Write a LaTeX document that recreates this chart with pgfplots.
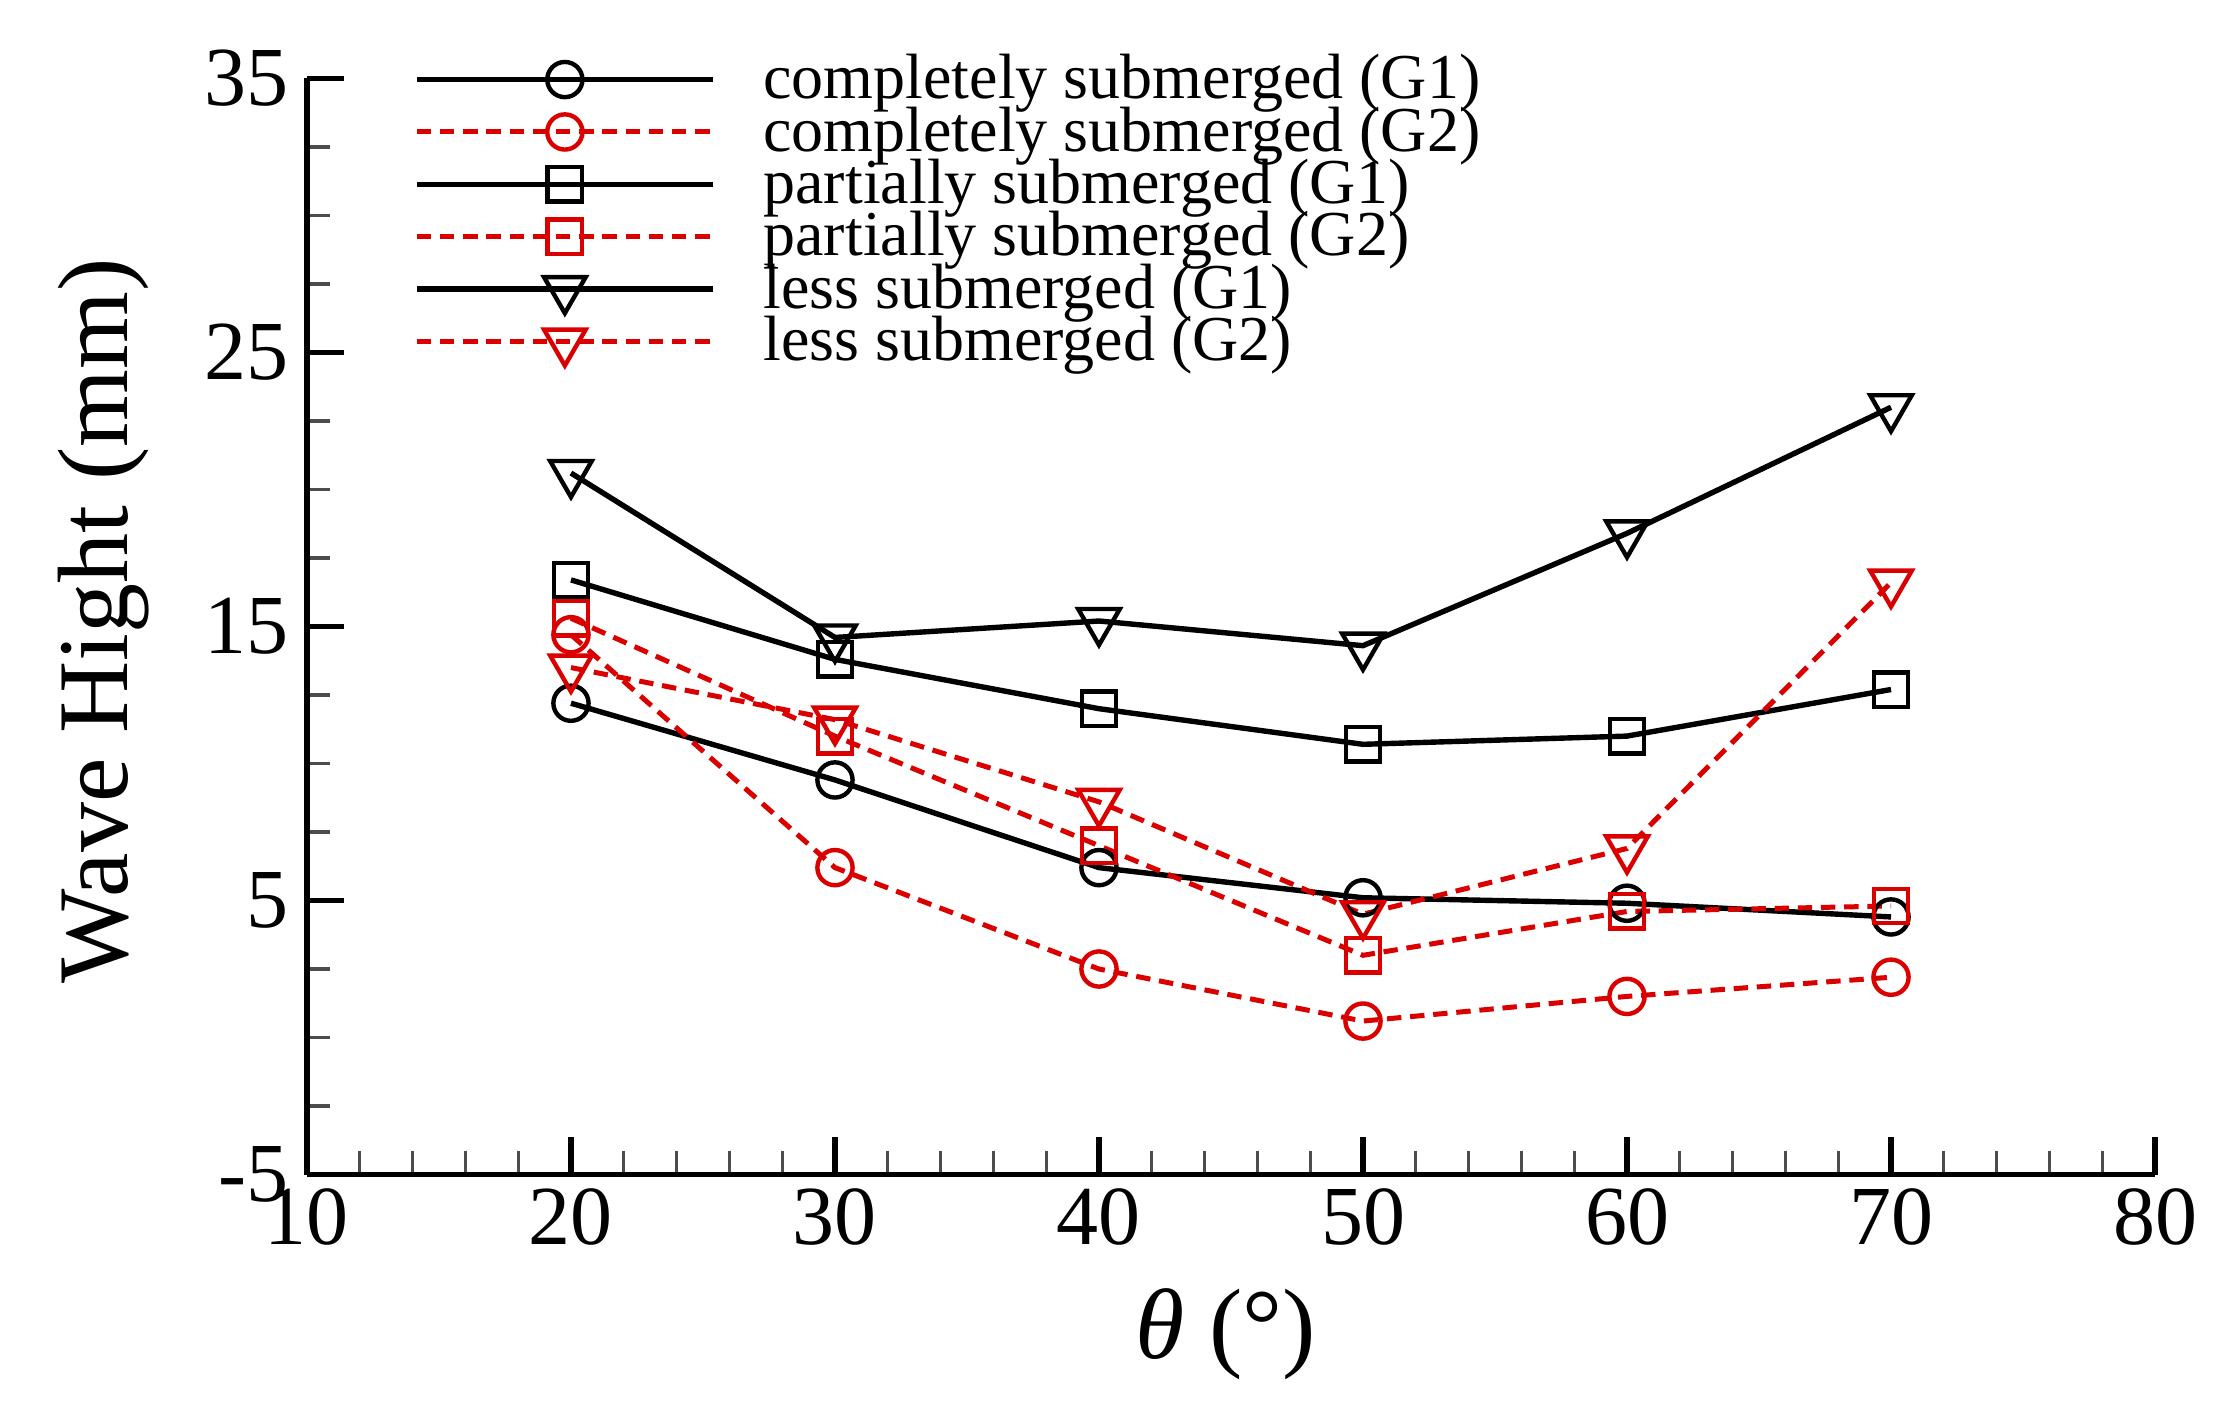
\documentclass[border=0pt]{standalone}
\usepackage{pgfplots}
\pgfplotsset{compat=1.18}
\usepackage{fontspec}
\setmainfont{Liberation Serif}
\definecolor{tecred}{RGB}{218,0,0}
\begin{document}
\begin{tikzpicture}
\begin{axis}[
  scale only axis,
  width=462pt, height=274pt,
  xmin=10, xmax=80, ymin=-5, ymax=35,
  axis lines=left,
  axis line style={-, line width=1.4pt},
  xtick={10,20,...,80},
  ytick={-5,5,15,25,35},
  minor x tick num=4,
  minor y tick num=3,
  tick align=inside,
  major tick length=9.3pt,
  minor tick length=5.8pt,
  major tick style={line width=1.3pt, black},
  minor tick style={line width=0.8pt, black!70},
  /pgf/number format/assume math mode=true,
  ticklabel style={font=\fontsize{21}{21}\selectfont},
  yticklabel style={xshift=-1pt},
  xlabel={\textit{θ} (°)},
  ylabel={Wave Hight (mm)},
  xlabel style={font=\fontsize{25}{25}\selectfont, at={(axis description cs:0.497,-0.1455)}, anchor=center},
  ylabel style={font=\fontsize{25}{25}\selectfont, at={(axis description cs:-0.110,0.505)}, anchor=center},
  clip=false,
  legend cell align=left,
  legend style={
    at={(rel axis cs:0.058,1.022)}, anchor=north west,
    draw=none, fill=none, inner sep=0pt, outer sep=0pt,
    font=\fontsize{16}{16}\selectfont,
    row sep=0.5pt, column sep=12pt,
    nodes={inner sep=0pt},
  },
  legend image code/.code={%
    \draw[mark repeat=2, mark phase=2, #1] plot coordinates {(0pt,0pt) (37pt,0pt) (74pt,0pt)};
  },
  blk/.style={black, solid, line width=1.35pt},
  rd/.style={tecred, line width=1.25pt, dash pattern=on 3.6pt off 2.2pt},
]
\coordinate (bbsw) at (rel axis cs:-0.1661,-0.2235);
\coordinate (bbne) at (rel axis cs:1.0384,1.0716);

\addplot[blk, mark=o, mark size=4.4pt, mark options={solid, line width=1.1pt}] coordinates {
 (20,12.2) (30,9.4) (40,6.2) (50,5.1) (60,4.9) (70,4.4)};
\addlegendentry{completely submerged (G1)}
\addplot[rd, mark=o, mark size=4.4pt, mark options={solid, line width=1.1pt}] coordinates {
 (20,14.7) (30,6.2) (40,2.5) (50,0.6) (60,1.5) (70,2.2)};
\addlegendentry{completely submerged (G2)}
\addplot[blk, mark=square, mark size=4.3pt, mark options={solid, line width=1.1pt}] coordinates {
 (20,16.7) (30,13.8) (40,12.0) (50,10.7) (60,11.0) (70,12.7)};
\addlegendentry{partially submerged (G1)}
\addplot[rd, mark=square, mark size=4.3pt, mark options={solid, line width=1.1pt}] coordinates {
 (20,15.3) (30,11.0) (40,7.0) (50,3.0) (60,4.6) (70,4.8)};
\addlegendentry{partially submerged (G2)}
\addplot[blk, mark=triangle, mark size=6.0pt, mark options={solid, line width=1.1pt, rotate=180}] coordinates {
 (20,20.6) (30,14.6) (40,15.2) (50,14.3) (60,18.4) (70,23.0)};
\addlegendentry{less submerged (G1)}
\addplot[rd, mark=triangle, mark size=6.0pt, mark options={solid, line width=1.1pt, rotate=180}] coordinates {
 (20,13.5) (30,11.6) (40,8.6) (50,4.5) (60,6.9) (70,16.6)};
\addlegendentry{less submerged (G2)}
\end{axis}
\pgfresetboundingbox
\path (bbsw) rectangle (bbne);
\end{tikzpicture}
\end{document}
